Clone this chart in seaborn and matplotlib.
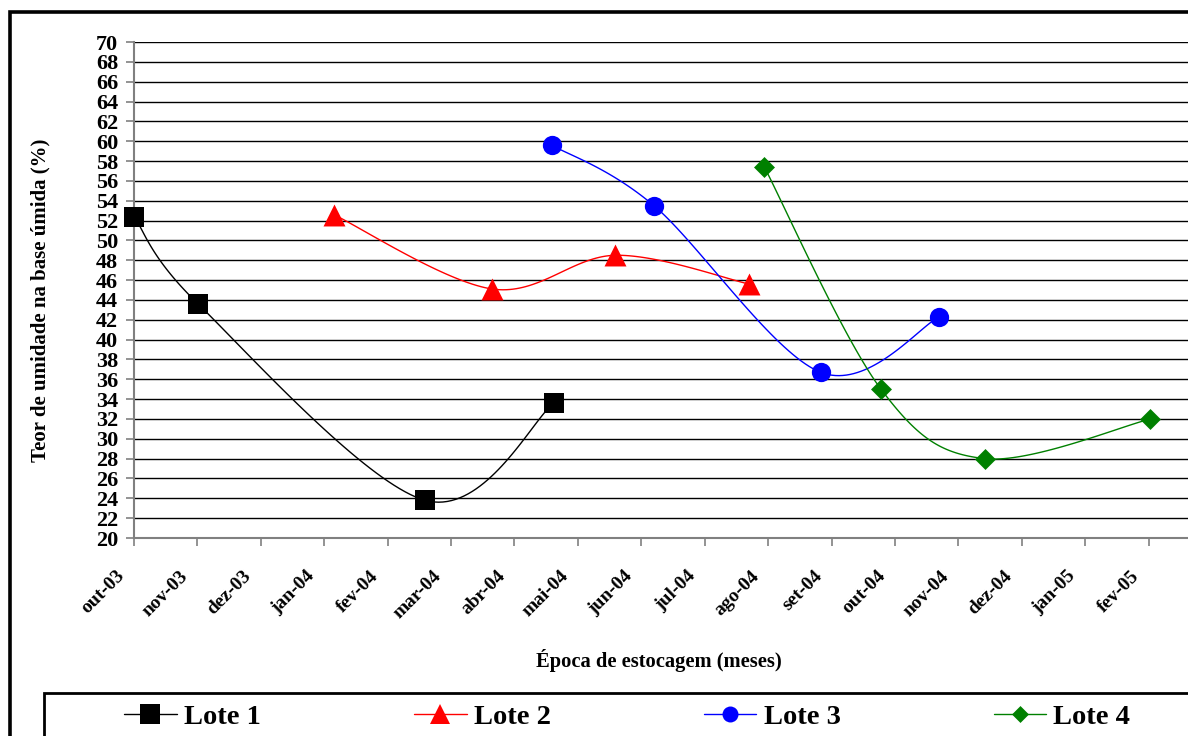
import numpy as np
import pandas as pd
import matplotlib
matplotlib.use("Agg")
import matplotlib.pyplot as plt
from matplotlib.patches import Rectangle
from matplotlib.lines import Line2D
from matplotlib.transforms import ScaledTranslation
import seaborn as sns

# ---------------- data ----------------
months = ["out-03", "nov-03", "dez-03", "jan-04", "fev-04", "mar-04", "abr-04",
          "mai-04", "jun-04", "jul-04", "ago-04", "set-04", "out-04", "nov-04",
          "dez-04", "jan-05", "fev-05"]

lote1_x = [0.00, 1.01, 4.59, 6.62]
lote1_y = [52.4, 43.6, 23.8, 33.6]

lote2_x = [3.15, 5.65, 7.59, 9.70]
lote2_y = [52.6, 45.1, 48.5, 45.6]

lote3_x = [6.59, 8.20, 10.83, 12.70]
lote3_y = [59.6, 53.5, 36.7, 42.3]

lote4_x = [9.94, 11.78, 13.42, 16.03]
lote4_y = [57.4, 35.0, 28.0, 32.0]

series_names = ["Lote 1", "Lote 2", "Lote 3", "Lote 4"]
y_ticks = list(range(20, 71, 2))

# ---------------- style ----------------
sns.set_theme(style="white")
plt.rcParams["font.family"] = ["Liberation Serif", "DejaVu Serif"]
plt.rcParams["font.weight"] = "bold"
plt.rcParams["text.color"] = "black"
plt.rcParams["xtick.labelcolor"] = "black"
plt.rcParams["ytick.labelcolor"] = "black"

colors = ["#000000", "#FF0000", "#0000FF", "#008000"]
diamond = (4, 0, 0)
markers = ["s", "^", "o", diamond]
msizes = [14.4, 15.8, 13.9, 15.1]
leg_msizes = [14.4, 13.7, 11.5, 12.2]


def smooth(xs, ys, n=40):
    """Excel-like smoothed line (Catmull-Rom Bezier) through the data points."""
    P = np.column_stack([xs, ys]).astype(float)
    out = []
    for i in range(len(P) - 1):
        p0 = P[i - 1] if i > 0 else P[i]
        p1, p2 = P[i], P[i + 1]
        p3 = P[i + 2] if i + 2 < len(P) else P[i + 1]
        c1 = p1 + (p2 - p0) / 6.0
        c2 = p2 - (p3 - p1) / 6.0
        t = np.linspace(0, 1, n)[:, None]
        if i < len(P) - 2:
            t = t[:-1]
        B = ((1 - t) ** 3) * p1 + 3 * ((1 - t) ** 2) * t * c1 + 3 * (1 - t) * t ** 2 * c2 + t ** 3 * p2
        out.append(B)
    B = np.vstack(out)
    return B[:, 0], B[:, 1]


W, H = 1188, 736
fig = plt.figure(figsize=(W / 100, H / 100), dpi=100)
ax_left, ax_right, ax_top, ax_bottom = 134, 1212, 42, 538
ax = fig.add_axes([ax_left / W, 1 - ax_bottom / H, (ax_right - ax_left) / W, (ax_bottom - ax_top) / H])

all_x = [lote1_x, lote2_x, lote3_x, lote4_x]
all_y = [lote1_y, lote2_y, lote3_y, lote4_y]

for name, xs, ys, c, m, ms in zip(series_names, all_x, all_y, colors, markers, msizes):
    sx, sy = smooth(xs, ys)
    curve = pd.DataFrame({"x": sx, "y": sy})
    sns.lineplot(data=curve, x="x", y="y", ax=ax, color=c, lw=1.0,
                 estimator=None, sort=False, legend=False, zorder=3)
    pts = pd.DataFrame({"x": xs, "y": ys})
    sns.scatterplot(data=pts, x="x", y="y", ax=ax, color=c, marker=m,
                    s=ms ** 2, linewidth=0, legend=False, zorder=4, clip_on=False)

ax.set_xlim(0, 17)
ax.set_ylim(20, 70)
ax.set_xticks(range(len(months)))
ax.set_xticklabels(months, rotation=45, ha="right", va="center",
                   rotation_mode="anchor", fontsize=14, fontweight="bold", color="black")
ax.set_yticks(y_ticks)
ax.set_yticklabels([str(v) for v in y_ticks], fontsize=16, fontweight="bold", color="black")
ax.set_xlabel("")
ax.set_ylabel("")

for v in y_ticks[1:]:
    ax.axhline(v, color="black", lw=1.0, zorder=1)

for s in ["top", "right"]:
    ax.spines[s].set_visible(False)
for s in ["left", "bottom"]:
    ax.spines[s].set_color("#808080")
    ax.spines[s].set_linewidth(1.5)

ax.tick_params(axis="both", direction="out", length=5.5, width=1.2, color="#808080",
               left=True, bottom=True)
ax.tick_params(axis="y", pad=6)
ax.tick_params(axis="x", pad=20)
for lab in ax.get_xticklabels():
    lab.set_transform(lab.get_transform() + ScaledTranslation(-0.12, 0, fig.dpi_scale_trans))

# axis titles
fig.text(40 / W, 1 - 300 / H, "Teor de umidade na base úmida (%)", rotation=90,
         ha="center", va="center", fontsize=15, fontweight="bold", color="black")
fig.text(659 / W, 1 - 660 / H, "Época de estocagem (meses)", ha="center", va="center",
         fontsize=14.8, fontweight="bold", color="black")

# outer chart border and legend box (extend beyond visible area)
fig.add_artist(Rectangle((9.5 / W, -0.2), 1.3, 1.2 - 11.5 / H, transform=fig.transFigure,
                         fill=False, edgecolor="black", lw=2.6, zorder=10))
fig.add_artist(Rectangle((43.5 / W, -0.2), 1.3, 0.2 + 1 - 693 / H, transform=fig.transFigure,
                         fill=False, edgecolor="black", lw=2.0, zorder=10))

handles = [Line2D([], [], color=c, lw=1.0, marker=m, markersize=ms, markeredgewidth=0)
           for c, m, ms in zip(colors, markers, leg_msizes)]
fs = 20.5
leg = fig.legend(handles, series_names, loc="center left", bbox_to_anchor=(124 / W, 1 - 717 / H),
                 ncol=4, frameon=False,
                 prop={"family": "Liberation Serif", "weight": "bold", "size": fs},
                 handlelength=1.85, handletextpad=0.25, columnspacing=5.38,
                 borderaxespad=0, borderpad=0)
for t in leg.get_texts():
    t.set_color("black")

fig.savefig("out.png", dpi=100)
